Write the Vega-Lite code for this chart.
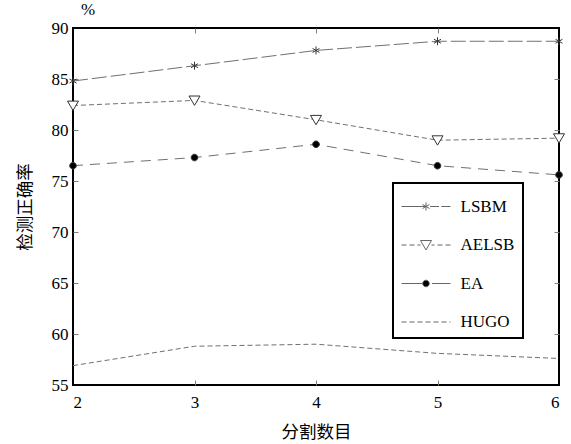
{
  "$schema": "https://vega.github.io/schema/vega-lite/v6.json",
  "width": 486,
  "height": 357,
  "autosize": {"type": "none"},
  "padding": {"left": 73, "top": 28, "right": 12, "bottom": 59},
  "background": "white",
  "title": {"text": "%", "anchor": "start", "frame": "group", "font": "Liberation Serif, Times New Roman, serif", "fontSize": 17, "fontWeight": "normal", "dx": 8, "offset": 0, "color": "black"},
  "config": {
    "view": {"stroke": "black", "strokeWidth": 2},
    "axis": {"grid": false, "domain": false}
  },
  "data": {"values": [
    {"n": 2, "acc": 84.8, "series": "LSBM"},
    {"n": 3, "acc": 86.3, "series": "LSBM"},
    {"n": 4, "acc": 87.8, "series": "LSBM"},
    {"n": 5, "acc": 88.7, "series": "LSBM"},
    {"n": 6, "acc": 88.7, "series": "LSBM"},
    {"n": 2, "acc": 82.4, "series": "AELSB"},
    {"n": 3, "acc": 82.9, "series": "AELSB"},
    {"n": 4, "acc": 81.0, "series": "AELSB"},
    {"n": 5, "acc": 79.0, "series": "AELSB"},
    {"n": 6, "acc": 79.2, "series": "AELSB"},
    {"n": 2, "acc": 76.5, "series": "EA"},
    {"n": 3, "acc": 77.3, "series": "EA"},
    {"n": 4, "acc": 78.6, "series": "EA"},
    {"n": 5, "acc": 76.5, "series": "EA"},
    {"n": 6, "acc": 75.6, "series": "EA"},
    {"n": 2, "acc": 56.9, "series": "HUGO"},
    {"n": 3, "acc": 58.8, "series": "HUGO"},
    {"n": 4, "acc": 59.0, "series": "HUGO"},
    {"n": 5, "acc": 58.1, "series": "HUGO"},
    {"n": 6, "acc": 57.6, "series": "HUGO"}
  ]},
  "resolve": {
    "scale": {"shape": "independent", "fill": "independent", "strokeDash": "independent"},
    "axis": {"x": "independent", "y": "independent"},
    "legend": {"shape": "independent", "fill": "independent", "strokeDash": "independent"}
  },
  "layer": [
    {
      "mark": {"type": "line", "stroke": "#707070", "strokeWidth": 1},
      "encoding": {
        "x": {"field": "n", "type": "quantitative", "scale": {"domain": [2, 6], "nice": false, "zero": false},
          "axis": {"orient": "bottom", "values": [2, 3, 4, 5, 6], "ticks": false, "labelPadding": 9, "labelFont": "Liberation Serif, Times New Roman, serif", "labelFontSize": 17, "labelColor": "black", "title": "分割数目", "titleFont": "Noto Sans CJK SC", "titleFontSize": 17.5, "titleFontWeight": "normal", "titleColor": "black", "titlePadding": 13}},
        "y": {"field": "acc", "type": "quantitative", "scale": {"domain": [55, 90], "nice": false, "zero": false},
          "axis": {"orient": "left", "values": [55, 60, 65, 70, 75, 80, 85, 90], "ticks": false, "labelPadding": 5, "labelFont": "Liberation Serif, Times New Roman, serif", "labelFontSize": 17, "labelColor": "black", "title": "检测正确率", "titleFont": "Noto Sans CJK SC", "titleFontSize": 17.5, "titleFontWeight": "normal", "titleColor": "black", "titlePadding": 17}},
        "detail": {"field": "series"},
        "strokeDash": {"field": "series", "type": "nominal", "legend": null,
          "scale": {"domain": ["LSBM", "AELSB", "EA", "HUGO"], "range": [[15, 4], [5, 3], [10, 7], [5, 3]]}}
      }
    },
    {
      "transform": [{"filter": "datum.series !== 'HUGO'"}],
      "mark": {"type": "point", "size": 121, "stroke": "#333333", "strokeWidth": 1, "opacity": 1},
      "encoding": {
        "x": {"field": "n", "type": "quantitative", "scale": {"domain": [2, 6], "nice": false, "zero": false},
          "axis": {"orient": "bottom", "values": [3, 4, 5], "labels": false, "ticks": true, "tickSize": 5, "offset": -5, "tickColor": "#808080", "title": null}},
        "y": {"field": "acc", "type": "quantitative", "scale": {"domain": [55, 90], "nice": false, "zero": false},
          "axis": {"orient": "left", "values": [60, 65, 70, 75, 80, 85], "labels": false, "ticks": true, "tickSize": 5, "offset": -5, "tickColor": "#808080", "title": null}},
        "shape": {"field": "series", "type": "nominal", "legend": null,
          "scale": {"domain": ["LSBM", "AELSB", "EA"], "range": [
            "M0,-0.727V0.727M-0.63,-0.364L0.63,0.364M-0.63,0.364L0.63,-0.364",
            "M-1,-0.8H1L0,0.9Z",
            "M-0.6,0A0.6,0.6,0,1,0,0.6,0A0.6,0.6,0,1,0,-0.6,0Z"]}},
        "fill": {"field": "series", "type": "nominal", "legend": null,
          "scale": {"domain": ["LSBM", "AELSB", "EA"], "range": ["transparent", "white", "black"]}}
      }
    },
    {
      "mark": {"type": "point", "size": 900, "stroke": "#666666", "strokeWidth": 1, "opacity": 0},
      "encoding": {
        "x": {"field": "n", "type": "quantitative", "scale": {"domain": [2, 6], "nice": false, "zero": false},
          "axis": {"orient": "top", "values": [3, 4, 5], "labels": false, "ticks": true, "tickSize": 5, "offset": -5, "tickColor": "#808080", "title": null}},
        "y": {"field": "acc", "type": "quantitative", "scale": {"domain": [55, 90], "nice": false, "zero": false},
          "axis": {"orient": "right", "values": [60, 65, 70, 75, 80, 85], "labels": false, "ticks": true, "tickSize": 5, "offset": -5, "tickColor": "#808080", "title": null}},
        "shape": {"field": "series", "type": "nominal",
          "scale": {"domain": ["LSBM", "AELSB", "EA", "HUGO"], "range": [
            "M-1,0H0.633M0.633,-0.27V0.27M0.399,-0.135L0.867,0.135M0.399,0.135L0.867,-0.135M0.9,0H1.5M1.65,0H2.267",
            "M-1,0H-0.667M-0.467,0H-0.133M0.067,0H0.27M0.266,-0.3H1.0L0.633,0.33ZM1.0,0H1.2M1.4,0H1.733M1.933,0H2.267",
            "M-1,0H0.37M0.413,0A0.22,0.22,0,1,0,0.853,0A0.22,0.22,0,1,0,0.413,0ZM1.03,0H2.267",
            "M-1,0H-0.667M-0.467,0H-0.133M0.067,0H0.4M0.6,0H0.933M1.133,0H1.467M1.667,0H2.0M2.2,0H2.267"]},
          "legend": {"title": null, "orient": "none", "legendX": 320, "legendY": 155, "padding": 8, "strokeColor": "black", "symbolSize": 900, "symbolOpacity": 1, "symbolStrokeWidth": 1, "symbolStrokeColor": "#666666", "labelFont": "Liberation Serif, Times New Roman, serif", "labelFontSize": 17, "labelColor": "black", "labelOffset": 28.5, "rowPadding": 14.5, "labelExpr": "datum.label + '      '", "encode": {"legend": {"update": {"strokeWidth": {"value": 2}}}}}},
        "fill": {"field": "series", "type": "nominal",
          "scale": {"domain": ["LSBM", "AELSB", "EA", "HUGO"], "range": ["transparent", "white", "black", "transparent"]},
          "legend": {"title": null, "orient": "none", "legendX": 320, "legendY": 155, "padding": 8, "strokeColor": "black", "symbolSize": 900, "symbolOpacity": 1, "symbolStrokeWidth": 1, "symbolStrokeColor": "#666666", "labelFont": "Liberation Serif, Times New Roman, serif", "labelFontSize": 17, "labelColor": "black", "labelOffset": 28.5, "rowPadding": 14.5, "labelExpr": "datum.label + '      '", "encode": {"legend": {"update": {"strokeWidth": {"value": 2}}}}}}
      }
    }
  ]
}
